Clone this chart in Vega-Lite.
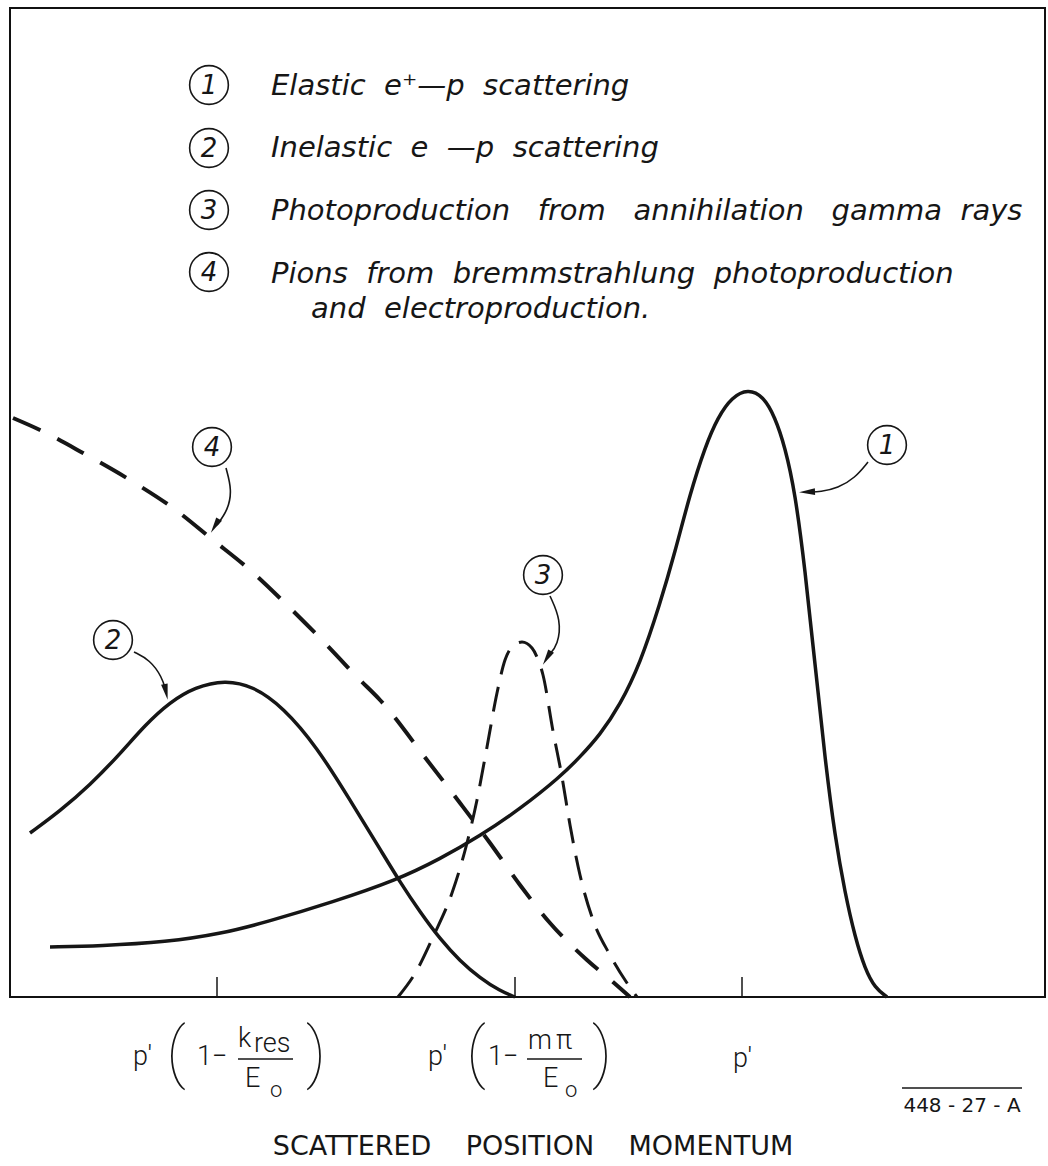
{
  "$schema": "https://vega.github.io/schema/vega-lite/v6.json",
  "width": 1035,
  "height": 989,
  "autosize": {"type": "none"},
  "padding": {"left": 10, "top": 8, "right": 3, "bottom": 169},
  "background": "white",
  "config": {"view": {"stroke": "#111", "strokeWidth": 2}},
  "datasets": {
    "solid": [
      {"curve": "1", "x": 40, "y": 50}, {"curve": "1", "x": 90, "y": 51}, {"curve": "1", "x": 157, "y": 55},
      {"curve": "1", "x": 210, "y": 63}, {"curve": "1", "x": 257, "y": 75}, {"curve": "1", "x": 323, "y": 95},
      {"curve": "1", "x": 387, "y": 117}, {"curve": "1", "x": 430, "y": 138}, {"curve": "1", "x": 470, "y": 161},
      {"curve": "1", "x": 510, "y": 188}, {"curve": "1", "x": 550, "y": 220}, {"curve": "1", "x": 570, "y": 240},
      {"curve": "1", "x": 590, "y": 262}, {"curve": "1", "x": 610, "y": 292}, {"curve": "1", "x": 630, "y": 333},
      {"curve": "1", "x": 650, "y": 393}, {"curve": "1", "x": 665, "y": 445}, {"curve": "1", "x": 680, "y": 503},
      {"curve": "1", "x": 695, "y": 550}, {"curve": "1", "x": 708, "y": 580},
      {"curve": "1", "x": 722, "y": 600}, {"curve": "1", "x": 738, "y": 608},
      {"curve": "1", "x": 753, "y": 601}, {"curve": "1", "x": 765, "y": 580}, {"curve": "1", "x": 775, "y": 550},
      {"curve": "1", "x": 785, "y": 505}, {"curve": "1", "x": 795, "y": 428}, {"curve": "1", "x": 805, "y": 333},
      {"curve": "1", "x": 815, "y": 238}, {"curve": "1", "x": 825, "y": 160}, {"curve": "1", "x": 835, "y": 104},
      {"curve": "1", "x": 845, "y": 60}, {"curve": "1", "x": 855, "y": 28}, {"curve": "1", "x": 865, "y": 9},
      {"curve": "1", "x": 877, "y": 0},
      {"curve": "2", "x": 20, "y": 164}, {"curve": "2", "x": 50, "y": 186}, {"curve": "2", "x": 80, "y": 212},
      {"curve": "2", "x": 110, "y": 243}, {"curve": "2", "x": 135, "y": 272}, {"curve": "2", "x": 160, "y": 295},
      {"curve": "2", "x": 185, "y": 310}, {"curve": "2", "x": 215, "y": 317}, {"curve": "2", "x": 243, "y": 311},
      {"curve": "2", "x": 273, "y": 290}, {"curve": "2", "x": 307, "y": 250}, {"curve": "2", "x": 340, "y": 197},
      {"curve": "2", "x": 373, "y": 143}, {"curve": "2", "x": 390, "y": 115}, {"curve": "2", "x": 410, "y": 85},
      {"curve": "2", "x": 430, "y": 58}, {"curve": "2", "x": 450, "y": 36}, {"curve": "2", "x": 470, "y": 19},
      {"curve": "2", "x": 490, "y": 6}, {"curve": "2", "x": 505, "y": 0}
    ],
    "dash4": [
      {"x": 3, "y": 579}, {"x": 30, "y": 567}, {"x": 73, "y": 544}, {"x": 120, "y": 517}, {"x": 163, "y": 489},
      {"x": 203, "y": 457}, {"x": 240, "y": 427}, {"x": 277, "y": 392}, {"x": 310, "y": 359}, {"x": 348, "y": 319},
      {"x": 370, "y": 297}, {"x": 417, "y": 237}, {"x": 450, "y": 194}, {"x": 480, "y": 154}, {"x": 510, "y": 112},
      {"x": 540, "y": 74}, {"x": 577, "y": 37}, {"x": 603, "y": 15}, {"x": 620, "y": 0}
    ],
    "dash3": [
      {"x": 388, "y": 0}, {"x": 407, "y": 27}, {"x": 423, "y": 60}, {"x": 442, "y": 104}, {"x": 457, "y": 154},
      {"x": 467, "y": 197}, {"x": 477, "y": 250}, {"x": 487, "y": 304}, {"x": 495, "y": 337}, {"x": 502, "y": 350},
      {"x": 512, "y": 355}, {"x": 522, "y": 349}, {"x": 527, "y": 340}, {"x": 533, "y": 322}, {"x": 543, "y": 266},
      {"x": 552, "y": 220}, {"x": 560, "y": 172}, {"x": 570, "y": 122}, {"x": 583, "y": 77}, {"x": 600, "y": 42},
      {"x": 617, "y": 14}, {"x": 627, "y": 0}
    ],
    "arrows": [
      {"arrow": "1", "i": 0, "x": 858, "y": 535}, {"arrow": "1", "i": 1, "x": 845, "y": 519}, {"arrow": "1", "i": 2, "x": 828, "y": 509}, {"arrow": "1", "i": 3, "x": 810, "y": 505}, {"arrow": "1", "i": 4, "x": 800, "y": 505},
      {"arrow": "4", "i": 0, "x": 216, "y": 529}, {"arrow": "4", "i": 1, "x": 222, "y": 507}, {"arrow": "4", "i": 2, "x": 218, "y": 487}, {"arrow": "4", "i": 3, "x": 207, "y": 472},
      {"arrow": "2", "i": 0, "x": 124, "y": 345}, {"arrow": "2", "i": 1, "x": 140, "y": 337}, {"arrow": "2", "i": 2, "x": 152, "y": 320}, {"arrow": "2", "i": 3, "x": 156, "y": 306},
      {"arrow": "3", "i": 0, "x": 540, "y": 401}, {"arrow": "3", "i": 1, "x": 551, "y": 377}, {"arrow": "3", "i": 2, "x": 548, "y": 352}, {"arrow": "3", "i": 3, "x": 539, "y": 342}
    ],
    "heads": [
      {"arrow": "1", "x": 797, "y": 505, "angle": 268},
      {"arrow": "4", "x": 205, "y": 471, "angle": 211},
      {"arrow": "2", "x": 156, "y": 305, "angle": 168},
      {"arrow": "3", "x": 537, "y": 339, "angle": 211}
    ],
    "circles": [
      {"label": "1", "x": 199, "y": 912}, {"label": "2", "x": 199, "y": 849},
      {"label": "3", "x": 199, "y": 787}, {"label": "4", "x": 199, "y": 725},
      {"label": "1", "x": 877, "y": 552}, {"label": "2", "x": 103, "y": 357},
      {"label": "3", "x": 533, "y": 422}, {"label": "4", "x": 202, "y": 550}
    ],
    "ticks": [{"x": 207, "y": 0, "y2": 20}, {"x": 505, "y": 0, "y2": 20}, {"x": 732, "y": 0, "y2": 20}],
    "legend": [
      {"text": "Elastic \u00a0e⁺—p \u00a0scattering", "x": 261, "y": 902},
      {"text": "Inelastic \u00a0e \u00a0—p \u00a0scattering", "x": 261, "y": 840},
      {"text": "Photoproduction \u00a0\u00a0from \u00a0\u00a0annihilation \u00a0\u00a0gamma \u00a0rays", "x": 261, "y": 777},
      {"text": "Pions \u00a0from \u00a0bremmstrahlung \u00a0photoproduction", "x": 261, "y": 714},
      {"text": "and \u00a0electroproduction.", "x": 301, "y": 679}
    ],
    "labels": [
      {"text": "p′", "x": 123, "y": -68}, {"text": "1−", "x": 187, "y": -68},
      {"text": "k", "x": 228, "y": -50}, {"text": "res", "x": 244, "y": -55}, {"text": "E", "x": 235, "y": -90},
      {"text": "p′", "x": 418, "y": -68}, {"text": "1−", "x": 478, "y": -68},
      {"text": "m", "x": 518, "y": -52}, {"text": "π", "x": 546, "y": -52}, {"text": "E", "x": 533, "y": -90},
      {"text": "p′", "x": 723, "y": -70}
    ],
    "subs": [{"text": "o", "x": 260, "y": -100}, {"text": "o", "x": 555, "y": -100}],
    "parens": [
      {"text": "(", "x": 166, "y": -58}, {"text": ")", "x": 306, "y": -58},
      {"text": "(", "x": 466, "y": -58}, {"text": ")", "x": 592, "y": -58}
    ],
    "bars": [
      {"x": 228, "x2": 283, "y": -62}, {"x": 517, "x2": 572, "y": -62}, {"x": 892, "x2": 1012, "y": -91}
    ],
    "ident": [{"text": "448 - 27 - A", "x": 952, "y": -115}],
    "title": [{"text": "SCATTERED \u00a0\u00a0\u00a0POSITION \u00a0\u00a0\u00a0MOMENTUM", "x": 523, "y": -158}]
  },
  "encoding": {
    "x": {"field": "x", "type": "quantitative", "scale": {"domain": [0, 1035], "nice": false, "zero": false}, "axis": null},
    "y": {"field": "y", "type": "quantitative", "scale": {"domain": [0, 989], "nice": false, "zero": false}, "axis": null}
  },
  "layer": [
    {
      "data": {"name": "solid"},
      "mark": {"type": "line", "interpolate": "basis", "color": "#161616", "strokeWidth": 3.5},
      "encoding": {"detail": {"field": "curve"}}
    },
    {
      "data": {"name": "dash4"},
      "mark": {"type": "line", "interpolate": "monotone", "color": "#161616", "strokeWidth": 4, "strokeDash": [30, 19]}
    },
    {
      "data": {"name": "dash3"},
      "mark": {"type": "line", "interpolate": "monotone", "color": "#161616", "strokeWidth": 3, "strokeDash": [25, 13]}
    },
    {
      "data": {"name": "arrows"},
      "mark": {"type": "line", "interpolate": "basis", "color": "#161616", "strokeWidth": 1.6},
      "encoding": {"detail": {"field": "arrow"}, "order": {"field": "i", "type": "quantitative"}}
    },
    {
      "data": {"name": "heads"},
      "mark": {"type": "point", "shape": "M0,-1L-0.42,1L0.42,1Z", "filled": true, "size": 256, "color": "#161616", "opacity": 1},
      "encoding": {"angle": {"field": "angle", "type": "quantitative", "scale": null}}
    },
    {
      "data": {"name": "circles"},
      "mark": {"type": "point", "shape": "circle", "filled": false, "size": 1500, "color": "#161616", "strokeWidth": 1.6, "opacity": 1}
    },
    {
      "data": {"name": "circles"},
      "mark": {"type": "text", "font": "DejaVu Sans", "fontStyle": "italic", "fontSize": 26, "baseline": "middle", "align": "center", "color": "#161616", "dy": 1},
      "encoding": {"text": {"field": "label"}}
    },
    {
      "data": {"name": "ticks"},
      "mark": {"type": "rule", "color": "#161616", "strokeWidth": 1.5},
      "encoding": {"y2": {"field": "y2"}}
    },
    {
      "data": {"name": "legend"},
      "mark": {"type": "text", "font": "DejaVu Sans", "fontStyle": "italic", "fontSize": 29, "baseline": "alphabetic", "align": "left", "color": "#161616"},
      "encoding": {"text": {"field": "text"}}
    },
    {
      "data": {"name": "labels"},
      "mark": {"type": "text", "font": "Roboto", "fontWeight": 300, "fontSize": 27, "baseline": "alphabetic", "align": "left", "color": "#161616"},
      "encoding": {"text": {"field": "text"}}
    },
    {
      "data": {"name": "subs"},
      "mark": {"type": "text", "font": "Roboto", "fontWeight": 300, "fontSize": 22, "baseline": "alphabetic", "align": "left", "color": "#161616"},
      "encoding": {"text": {"field": "text"}}
    },
    {
      "data": {"name": "parens"},
      "mark": {"type": "text", "font": "Roboto", "fontWeight": 100, "fontSize": 66, "baseline": "middle", "align": "center", "color": "#161616"},
      "encoding": {"text": {"field": "text"}}
    },
    {
      "data": {"name": "bars"},
      "mark": {"type": "rule", "color": "#161616", "strokeWidth": 1.5},
      "encoding": {"x2": {"field": "x2"}}
    },
    {
      "data": {"name": "ident"},
      "mark": {"type": "text", "font": "DejaVu Sans", "fontSize": 20, "baseline": "alphabetic", "align": "center", "color": "#161616"},
      "encoding": {"text": {"field": "text"}}
    },
    {
      "data": {"name": "title"},
      "mark": {"type": "text", "font": "DejaVu Sans", "fontSize": 27, "baseline": "alphabetic", "align": "center", "color": "#161616"},
      "encoding": {"text": {"field": "text"}}
    }
  ]
}
